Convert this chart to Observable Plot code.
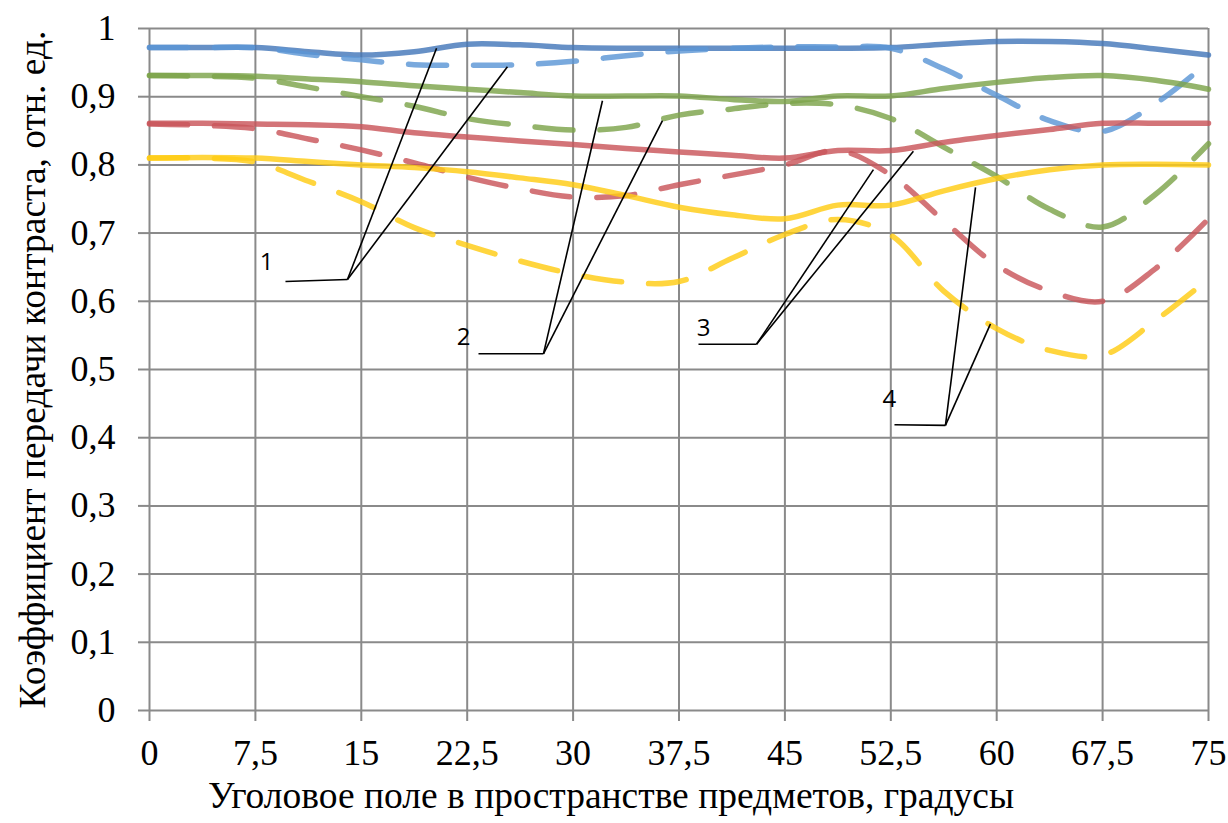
<!DOCTYPE html>
<html>
<head>
<meta charset="utf-8">
<script src="https://cdn.jsdelivr.net/npm/d3@7"></script>
<script src="https://cdn.jsdelivr.net/npm/@observablehq/plot@0.6"></script>
<style>
  html, body { margin: 0; padding: 0; background: #fff; }
</style>
</head>
<body>
<div id="chart"></div>
<script>
// ---- data ----
const angles = [0, 3.75, 7.5, 11.25, 15, 18.75, 22.5, 26.25, 30, 33.75, 37.5, 41.25, 45, 48.75, 52.5, 56.25, 60, 63.75, 67.5, 71.25, 75];

const blueSolid   = [0.972, 0.972, 0.972, 0.966, 0.961, 0.966, 0.977, 0.976, 0.972, 0.971, 0.971, 0.971, 0.971, 0.971, 0.972, 0.977, 0.981, 0.981, 0.978, 0.970, 0.961];
const blueDashed  = [0.972, 0.972, 0.972, 0.962, 0.954, 0.947, 0.946, 0.947, 0.952, 0.960, 0.967, 0.971, 0.973, 0.973, 0.971, 0.941, 0.902, 0.865, 0.849, 0.890, 0.951];
const greenSolid  = [0.931, 0.931, 0.930, 0.926, 0.922, 0.916, 0.911, 0.906, 0.901, 0.901, 0.901, 0.896, 0.893, 0.901, 0.901, 0.912, 0.921, 0.928, 0.931, 0.924, 0.911];
const greenDashed = [0.931, 0.930, 0.927, 0.914, 0.900, 0.886, 0.868, 0.858, 0.851, 0.855, 0.873, 0.882, 0.890, 0.888, 0.868, 0.826, 0.783, 0.735, 0.709, 0.757, 0.831];
const redSolid    = [0.861, 0.861, 0.860, 0.859, 0.856, 0.847, 0.841, 0.835, 0.830, 0.824, 0.819, 0.814, 0.810, 0.821, 0.821, 0.833, 0.843, 0.852, 0.861, 0.861, 0.861];
const redDashed   = [0.860, 0.858, 0.853, 0.838, 0.822, 0.803, 0.782, 0.765, 0.753, 0.755, 0.771, 0.785, 0.800, 0.821, 0.785, 0.718, 0.653, 0.615, 0.600, 0.648, 0.721];
const yellowSolid = [0.810, 0.811, 0.810, 0.805, 0.800, 0.796, 0.790, 0.781, 0.771, 0.755, 0.738, 0.727, 0.721, 0.741, 0.741, 0.762, 0.780, 0.793, 0.800, 0.801, 0.800];
const yellowDashed= [0.810, 0.810, 0.804, 0.776, 0.746, 0.708, 0.682, 0.659, 0.640, 0.628, 0.629, 0.663, 0.698, 0.720, 0.697, 0.615, 0.560, 0.528, 0.521, 0.572, 0.633];

const xTicks = [0, 7.5, 15, 22.5, 30, 37.5, 45, 52.5, 60, 67.5, 75];
const yTicks = [0, 0.1, 0.2, 0.3, 0.4, 0.5, 0.6, 0.7, 0.8, 0.9, 1];

const xTitle = "Уголовое поле в пространстве предметов, градусы";
const yTitle = "Коэффициент передачи контраста, отн. ед.";

// leader annotations: label, label position, horizontal start, vertex, two end points (data units)
const calloutLabels = ["1", "2", "3", "4"];
const calloutTextX  = [8.29, 22.24, 39.24, 52.40];
const calloutTextY  = [0.657, 0.547, 0.560, 0.456];
const calloutStartX = [9.63, 23.30, 38.88, 52.76];
const calloutStartY = [0.629, 0.523, 0.537, 0.419];
const calloutVertX  = [14.02, 27.90, 42.99, 56.37];
const calloutVertY  = [0.632, 0.523, 0.537, 0.418];
const calloutAX     = [20.33, 32.08, 51.27, 58.50];
const calloutAY     = [0.971, 0.894, 0.793, 0.767];
const calloutBX     = [25.35, 36.33, 54.10, 59.56];
const calloutBY     = [0.944, 0.865, 0.820, 0.567];

// ---- build tables ----
const seriesDefs = [
  {name: "blueSolid",    values: blueSolid,    color: "#4478BA", dash: null},
  {name: "blueDashed",   values: blueDashed,   color: "#5B96D6", dash: "38,27"},
  {name: "greenSolid",   values: greenSolid,   color: "#7DA44A", dash: null},
  {name: "greenDashed",  values: greenDashed,  color: "#7DA44A", dash: "38,27"},
  {name: "redSolid",     values: redSolid,     color: "#C9555A", dash: null},
  {name: "redDashed",    values: redDashed,    color: "#C9555A", dash: "38,27"},
  {name: "yellowSolid",  values: yellowSolid,  color: "#FFCC14", dash: null},
  {name: "yellowDashed", values: yellowDashed, color: "#FFCC14", dash: "38,27"}
];

const links = [];
calloutLabels.forEach((lab, i) => {
  links.push({x1: calloutVertX[i], y1: calloutVertY[i], x2: calloutStartX[i], y2: calloutStartY[i]});
  links.push({x1: calloutVertX[i], y1: calloutVertY[i], x2: calloutAX[i], y2: calloutAY[i]});
  links.push({x1: calloutVertX[i], y1: calloutVertY[i], x2: calloutBX[i], y2: calloutBY[i]});
});
const labels = calloutLabels.map((t, i) => ({t, x: calloutTextX[i], y: calloutTextY[i]}));

const fmt = d => String(d).replace(".", ",");

const lineMarks = seriesDefs.map(s => Plot.line(
  angles.map((a, i) => ({x: a, y: s.values[i]})),
  {
    x: "x", y: "y",
    stroke: s.color,
    strokeWidth: 5.5,
    strokeOpacity: 0.82,
    strokeLinecap: "round",
    strokeDasharray: s.dash || undefined,
    curve: "catmull-rom"
  }
));

const chart = Plot.plot({
  width: 1228,
  height: 823,
  marginLeft: 149,
  marginRight: 20,
  marginTop: 28,
  marginBottom: 113,
  style: {fontFamily: "'Liberation Serif', 'Times New Roman', serif", fontSize: "36px", color: "#000", background: "#fff", overflow: "visible"},
  x: {domain: [0, 75]},
  y: {domain: [0, 1]},
  marks: [
    Plot.gridX(xTicks, {stroke: "#8a8a8a", strokeOpacity: 1, strokeWidth: 2}),
    Plot.gridY(yTicks, {stroke: "#8a8a8a", strokeOpacity: 1, strokeWidth: 2}),
    Plot.axisX(xTicks, {tickFormat: fmt, tickSize: 11, tickPadding: 18, stroke: "#8a8a8a", strokeWidth: 2, fill: "#000", fontSize: 36, label: null}),
    Plot.axisY(yTicks, {tickFormat: fmt, tickSize: 11, tickPadding: 23, stroke: "#8a8a8a", strokeWidth: 2, fill: "#000", fontSize: 36, label: null}),
    ...lineMarks,
    Plot.link(links, {x1: "x1", y1: "y1", x2: "x2", y2: "y2", stroke: "#000", strokeWidth: 1.6}),
    Plot.text(labels, {x: "x", y: "y", text: "t", fontFamily: "'Open Sans', 'Liberation Sans', sans-serif", fontSize: 24, fill: "#000"}),
    Plot.text([xTitle], {text: d => d, frameAnchor: "bottom", dx: -68, dy: 97, fontSize: 37.5, fill: "#000"}),
    Plot.text([yTitle], {text: d => d, frameAnchor: "left", textAnchor: "middle", dx: -117, rotate: -90, fontSize: 37.5, fill: "#000"})
  ]
});
document.getElementById("chart").appendChild(chart);
</script>
</body>
</html>
